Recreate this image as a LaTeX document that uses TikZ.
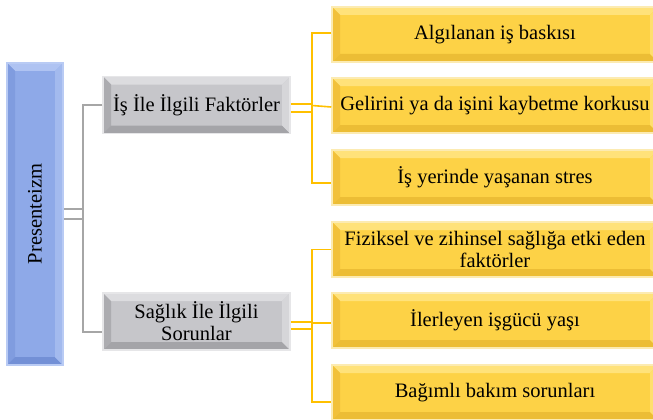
\documentclass[tikz,border=0pt]{standalone}
\usepackage{fontspec}
\setmainfont{Liberation Serif}
\usetikzlibrary{calc}

% palette
\definecolor{bluemain}{HTML}{8EA9E8}
\definecolor{bluetop}{HTML}{AFC3F2}
\definecolor{blueleft}{HTML}{809CDF}
\definecolor{bluebot}{HTML}{7390D6}
\definecolor{blueright}{HTML}{A3BAEE}
\definecolor{blueedge}{HTML}{B9CBF4}
\definecolor{greymain}{HTML}{C6C6CA}
\definecolor{greytop}{HTML}{DCDCDF}
\definecolor{greyleft}{HTML}{ACACB0}
\definecolor{greybot}{HTML}{A4A4A8}
\definecolor{greyright}{HTML}{D6D6D9}
\definecolor{greyedge}{HTML}{E6E6E8}
\definecolor{yelmain}{HTML}{FDD246}
\definecolor{yeltop}{HTML}{FFE27A}
\definecolor{yelleft}{HTML}{F2C13A}
\definecolor{yelbot}{HTML}{ECBD35}
\definecolor{yelright}{HTML}{FFDF6E}
\definecolor{yeledge}{HTML}{FCEBB2}
\definecolor{greyline}{HTML}{A6A6A6}
\definecolor{orangeline}{HTML}{FFC000}

\tikzset{
  % bevelled box: #1 is the colour prefix (blue / grey / yel)
  bevelbox/.style={
    draw=#1edge, line width=1.5pt, fill=#1main, inner sep=2pt, align=center,
    font=\fontsize{20.5}{22}\selectfont,
    path picture={
      \path (path picture bounding box.north west) coordinate (nw)
            (path picture bounding box.north east) coordinate (ne)
            (path picture bounding box.south east) coordinate (se)
            (path picture bounding box.south west) coordinate (sw);
      \fill[#1top]   (nw) -- (ne) -- ([shift={(-8pt,-8pt)}]ne) -- ([shift={(8pt,-8pt)}]nw) -- cycle;
      \fill[#1left]  (nw) -- ([shift={(8pt,-8pt)}]nw) -- ([shift={(8pt,8pt)}]sw) -- (sw) -- cycle;
      \fill[#1bot]   (sw) -- ([shift={(8pt,8pt)}]sw) -- ([shift={(-8pt,8pt)}]se) -- (se) -- cycle;
      \fill[#1right] (ne) -- (se) -- ([shift={(-8pt,8pt)}]se) -- ([shift={(-8pt,-8pt)}]ne) -- cycle;
    }},
  topic/.style={bevelbox=blue, minimum width=56pt, minimum height=302pt},
  group/.style={bevelbox=grey, minimum width=187pt, minimum height=57pt},
  item/.style={bevelbox=yel, minimum width=326pt, minimum height=55pt},
  greylink/.style={draw=greyline, line width=1.6pt},
  orangelink/.style={draw=orangeline, line width=1.6pt},
}

\begin{document}
\begin{tikzpicture}[x=1pt, y=-1pt]
\useasboundingbox (0,0) rectangle (653,420);

% root
\node[topic] (P) at (35,214) {};
\node[rotate=90, font=\fontsize{20.5}{22}\selectfont] (Ptxt) at (P.center) {Presenteizm};

% second level
\node[group] (A) at (196.5,105) {İş İle İlgili Faktörler};
\node[group] (B) at (196.5,321.5) {Sağlık İle İlgili\\Sorunlar};

% third level
\node[item] (a1) at (495,34.5)  {Algılanan iş baskısı};
\node[item] (a2) at (495,105.5) {Gelirini ya da işini kaybetme korkusu};
\node[item] (a3) at (495,177.5) {İş yerinde yaşanan stres};
\node[item] (b1) at (495,249.5) {Fiziksel ve zihinsel sağlığa etki eden\\faktörler};
\node[item] (b2) at (495,320.5) {İlerleyen işgücü yaşı};
\node[item] (b3) at (495,392.5) {Bağımlı bakım sorunları};

% junction points
\coordinate (pj) at (83,218);
\coordinate (aj) at (312,108);
\coordinate (bj) at (312,325.5);

% root to second level
\draw[greylink] ([yshift=5pt]P.east) -- ([yshift=5pt]P.east -| pj);
\draw[greylink] ([yshift=-5pt]P.east) -- ([yshift=-5pt]P.east -| pj);
\draw[greylink] (A.west) -| (pj) |- ([yshift=-10.5pt]B.west);

% second level to items
\draw[orangelink] ([yshift=1pt]A.east) -- ([yshift=1pt]A.east -| aj);
\draw[orangelink] ([yshift=-7pt]A.east) -- ([yshift=-7pt]A.east -| aj);
\draw[orangelink] ([yshift=1.5pt]a1.west) -| (aj) |- ([yshift=-5.5pt]a3.west);
\draw[orangelink] (aj |- a2.west) -- ([yshift=-1.5pt]a2.west);

\draw[orangelink] ([yshift=-0.5pt]B.east) -- ([yshift=-0.5pt]B.east -| bj);
\draw[orangelink] ([yshift=-7.5pt]B.east) -- ([yshift=-7.5pt]B.east -| bj);
\draw[orangelink] (b1.west) -| (bj) |- ([yshift=-9.5pt]b3.west);
\draw[orangelink] ([yshift=-2.5pt]b2.west -| bj) -- ([yshift=-2.5pt]b2.west);
\end{tikzpicture}
\end{document}
